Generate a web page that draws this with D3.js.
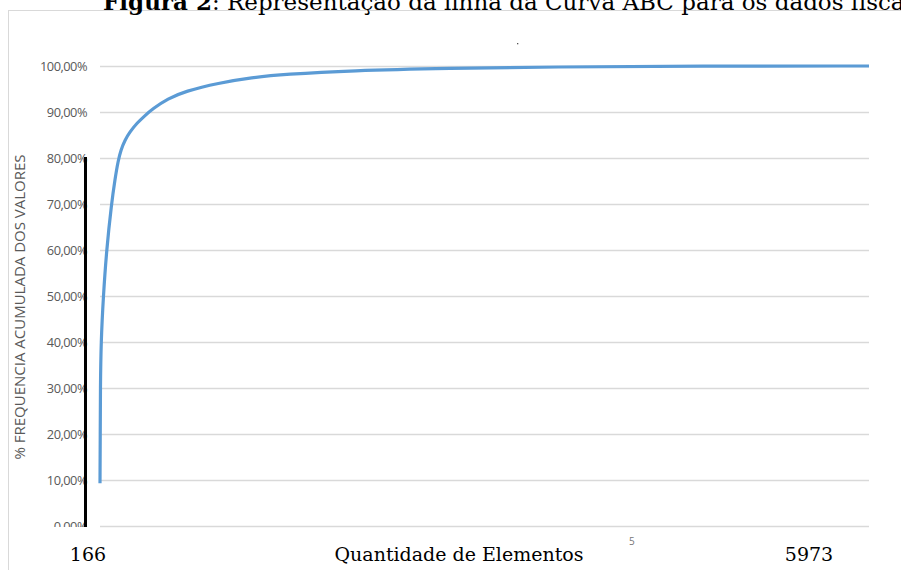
<!DOCTYPE html>
<html>
<head>
<meta charset="utf-8">
<script src="https://cdn.jsdelivr.net/npm/d3@7"></script>
<style>
  html, body { margin: 0; padding: 0; background: #fff; overflow: hidden; }
  svg { display: block; }
</style>
</head>
<body>
<div id="chart"></div>
<script>
/* Curva ABC: cumulative % of value by element rank, Excel-style line. */
var ranks = [1, 3, 4, 9, 27, 52, 90, 118, 141, 164, 195, 234, 288, 350, 405, 529, 661, 920, 1179, 1438, 1943, 2719, 3496, 4661, 5973];
var pcts = [9.3, 20, 30, 40, 50, 60, 70, 75.5, 79.3, 81.8, 83.9, 85.7, 87.6, 89.2, 90.6, 92.9, 94.5, 96.3, 97.5, 98.2, 99.0, 99.5, 99.8, 100, 100];
var yTicks = [0, 10, 20, 30, 40, 50, 60, 70, 80, 90, 100];
var xLabels = ["166", "5973"];

(function () {
  var W = 901, H = 570;
  var svg = d3.select("#chart").append("svg").attr("width", W).attr("height", H);

  var x = d3.scaleLinear().domain([1, 5973]).range([100, 869]);
  var y = d3.scaleLinear().domain([0, 100]).range([526, 66]);

  // chart area border
  svg.append("rect").attr("x", 8.5).attr("y", 10.5).attr("width", 1000).attr("height", 1000)
    .attr("fill", "none").attr("stroke", "#d9d9d9").attr("stroke-width", 1);

  // title (cut off at top, as in the source)
  var title = svg.append("text").attr("x", 103).attr("y", 10)
    .attr("font-family", "'DejaVu Serif', serif").attr("font-size", "23px").attr("fill", "#000");
  title.append("tspan").attr("font-weight", "bold").text("Figura 2");
  title.append("tspan").text(": Representação da linha da Curva ABC para os dados fiscais");

  // gridlines
  svg.append("g").selectAll("line").data(yTicks).join("line")
    .attr("x1", 100).attr("x2", 869)
    .attr("y1", function (d) { return y(d) + 0.5; }).attr("y2", function (d) { return y(d) + 0.5; })
    .attr("stroke", "#d9d9d9").attr("stroke-width", 1.3);

  // y tick labels, the lowest one clipped
  svg.append("clipPath").attr("id", "clipT").append("rect")
    .attr("x", 0).attr("y", 0).attr("width", W).attr("height", 527);
  svg.append("g").attr("clip-path", "url(#clipT)").selectAll("text").data(yTicks).join("text")
    .attr("x", 87).attr("y", function (d) { return y(d) + 4.5; })
    .attr("text-anchor", "end")
    .attr("font-family", "'Open Sans', sans-serif").attr("font-size", "12.8px")
    .attr("letter-spacing", "-0.5px")
    .attr("fill", "#595959")
    .text(function (d) { return d3.format(".2f")(d).replace(".", ",") + "%"; });

  // y axis title
  svg.append("text").attr("transform", "translate(25," + 307 + ") rotate(-90)")
    .attr("text-anchor", "middle")
    .attr("font-family", "'Open Sans', sans-serif").attr("font-size", "15px")
    .attr("fill", "#595959")
    .text("% FREQUENCIA ACUMULADA DOS VALORES");

  // the curve
  var line = d3.line()
    .x(function (d, i) { return x(ranks[i]); })
    .y(function (d) { return y(d); })
    .curve(d3.curveBasis);
  svg.append("path").datum(pcts).attr("d", line)
    .attr("fill", "none").attr("stroke", "#5b9bd5").attr("stroke-width", 3.2)
    .attr("stroke-linejoin", "round");

  // black vertical bar over the axis labels
  svg.append("line").attr("x1", 85.5).attr("x2", 85.5).attr("y1", y(80) - 1).attr("y2", y(0) + 1)
    .attr("stroke", "#000").attr("stroke-width", 3);

  // bottom labels
  var serif = "'DejaVu Serif', serif";
  svg.append("text").attr("x", 88).attr("y", 561).attr("text-anchor", "middle")
    .attr("font-family", serif).attr("font-size", "19px").text(xLabels[0]);
  svg.append("text").attr("x", 809).attr("y", 561).attr("text-anchor", "middle")
    .attr("font-family", serif).attr("font-size", "19px").text(xLabels[1]);
  svg.append("text").attr("x", 459).attr("y", 561).attr("text-anchor", "middle")
    .attr("font-family", serif).attr("font-size", "19px").text("Quantidade de Elementos");

  // stray marks
  svg.append("text").attr("x", 629).attr("y", 545).attr("font-family", "'Open Sans', sans-serif")
    .attr("font-size", "10px").attr("fill", "#777").text("5");
  svg.append("rect").attr("x", 517).attr("y", 43).attr("width", 1.3).attr("height", 1.3).attr("fill", "#555");
})();
</script>
</body>
</html>
